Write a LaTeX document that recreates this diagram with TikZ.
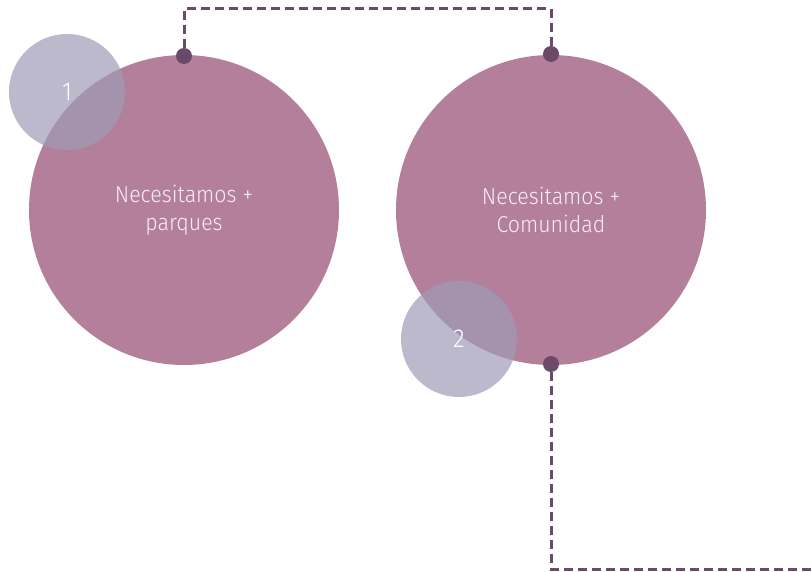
\documentclass[tikz,border=0pt]{standalone}
\usepackage{fontspec}
\setmainfont{Fira Sans Light}[FakeStretch=0.93]
\definecolor{bigc}{HTML}{B47F9B}
\definecolor{smallc}{HTML}{9F9BB6}
\definecolor{dotc}{HTML}{6B4A67}
\definecolor{txtc}{HTML}{F7EEF3}
\begin{document}
\begin{tikzpicture}[x=1pt,y=-1pt,
  bigcircle/.style={circle,fill=bigc,minimum size=310pt,inner sep=0pt,text=txtc,font=\fontsize{23}{28}\selectfont,align=center},
  numcircle/.style={circle,fill=smallc,fill opacity=0.7,text opacity=1,minimum size=116pt,inner sep=0pt,text=white,font=\fontsize{26}{28}\selectfont},
  dotnode/.style={circle,fill=dotc,minimum size=16pt,inner sep=0pt},
  link/.style={draw=dotc,line width=3pt,dash pattern=on 9pt off 5pt}]
\useasboundingbox (0,0) rectangle (812,572);
\node[bigcircle] (A) at (184,210) {Necesitamos +\\parques};
\node[bigcircle] (B) at (551,210) {Necesitamos +\\Comunidad};
\coordinate (t1) at (184,9);
\coordinate (t2) at (551,9);
\coordinate (b1) at (551,569);
\coordinate (b2) at (812,569);
\node[dotnode] (d1) at (184,56) {};
\node[dotnode] (d2) at (551,54) {};
\node[dotnode] (d3) at (551,364) {};
\draw[link] (d1) -- (t1) -- (t2) -- (d2);
\draw[link] (d3) -- (b1) -- (b2);
\node[numcircle] (n1) at (67,92) {1};
\node[numcircle] (n2) at (459,339) {2};
\end{tikzpicture}
\end{document}
